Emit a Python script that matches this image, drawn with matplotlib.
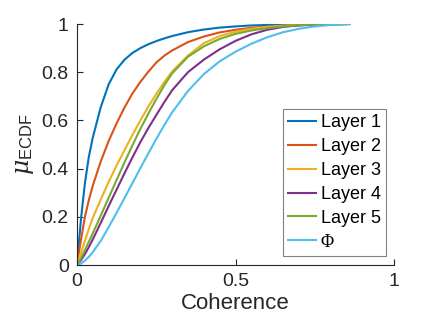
import matplotlib.pyplot as plt
import numpy as np

plt.rcParams['font.family'] = ['Liberation Sans', 'DejaVu Sans']
plt.rcParams['mathtext.fontset'] = 'custom'
plt.rcParams['mathtext.rm'] = 'Liberation Sans'
plt.rcParams['mathtext.it'] = 'DejaVu Serif:italic'

coherence = [0, 0.0125, 0.025, 0.0375, 0.05, 0.075, 0.1, 0.125, 0.15, 0.175,
             0.2, 0.225, 0.25, 0.275, 0.3, 0.35, 0.4, 0.45, 0.5, 0.55, 0.6,
             0.65, 0.7, 0.75, 0.8, 0.86]

layer1 = [0, 0.19, 0.34, 0.45, 0.53, 0.655, 0.75, 0.812, 0.852, 0.88,
          0.90, 0.916, 0.929, 0.94, 0.95, 0.966, 0.977, 0.985, 0.99, 0.994, 0.996,
          0.998, 0.999, 1.0, 1.0, 1.0]
layer2 = [0, 0.105, 0.20, 0.27, 0.33, 0.43, 0.515, 0.588, 0.654, 0.712,
          0.76, 0.802, 0.84, 0.868, 0.89, 0.925, 0.948, 0.965, 0.976, 0.984, 0.989,
          0.9925, 0.995, 0.997, 0.998, 1.0]
layer3 = [0, 0.05, 0.10, 0.15, 0.196, 0.272, 0.345, 0.413, 0.477, 0.54,
          0.60, 0.657, 0.71, 0.758, 0.803, 0.869, 0.92, 0.95, 0.968, 0.98, 0.988,
          0.993, 0.996, 0.998, 0.999, 1.0]
layer4 = [0, 0.02, 0.045, 0.075, 0.107, 0.175, 0.245, 0.313, 0.381, 0.447,
          0.51, 0.568, 0.622, 0.675, 0.725, 0.80, 0.852, 0.895, 0.93, 0.957, 0.976,
          0.988, 0.994, 0.997, 0.999, 1.0]
layer5 = [0, 0.028, 0.062, 0.097, 0.132, 0.205, 0.279, 0.353, 0.426, 0.497,
          0.565, 0.628, 0.688, 0.745, 0.795, 0.864, 0.907, 0.938, 0.959, 0.973, 0.983,
          0.99, 0.995, 0.998, 0.999, 1.0]
phi = [0, 0.006, 0.018, 0.034, 0.054, 0.10, 0.157, 0.217, 0.278, 0.34,
       0.402, 0.463, 0.523, 0.58, 0.633, 0.722, 0.792, 0.845, 0.885, 0.918, 0.945,
       0.966, 0.98, 0.99, 0.996, 1.0]

series = [layer1, layer2, layer3, layer4, layer5, phi]
labels = ['Layer 1', 'Layer 2', 'Layer 3', 'Layer 4', 'Layer 5', 'Φ']
colors = ['#0072BD', '#D95319', '#EDB120', '#7E2F8E', '#77AC30', '#4DBEEE']

fig = plt.figure(figsize=(4.36, 3.27), dpi=100)
ax = fig.add_axes([0.1766, 0.1896, 0.7271, 0.737])

for vals, lab, col in zip(series, labels, colors):
    ax.plot(coherence, vals, color=col, lw=1.5, label=lab)

ax.set_xlim(0, 1)
ax.set_ylim(0, 1)
ax.set_xticks([0, 0.5, 1])
ax.set_xticklabels(['0', '0.5', '1'])
ax.set_yticks([0, 0.2, 0.4, 0.6, 0.8, 1])
ax.set_yticklabels(['0', '0.2', '0.4', '0.6', '0.8', '1'])

axcol = '#262626'
ax.spines['top'].set_visible(False)
ax.spines['right'].set_visible(False)
for s in ['left', 'bottom']:
    ax.spines[s].set_color(axcol)
    ax.spines[s].set_linewidth(0.8)
ax.tick_params(direction='in', length=4, width=0.8, colors=axcol,
               labelsize=14, pad=6)

ax.set_xlabel('Coherence', fontsize=16, color=axcol, labelpad=2)
ax.set_ylabel(r'$\mu_{\mathrm{ECDF}}$', fontsize=17, color=axcol, labelpad=4)

leg = ax.legend(loc='lower right', bbox_to_anchor=(0.975, 0.037),
                borderaxespad=0, fontsize=13, handlelength=1.55,
                handletextpad=0.25, labelspacing=0.38, borderpad=0.3,
                fancybox=False, framealpha=1, edgecolor='0.5')
leg.get_frame().set_linewidth(0.8)
for t in leg.get_texts():
    t.set_color('black')
leg.get_texts()[-1].set_family('Liberation Serif')

fig.savefig('out.png', dpi=100)
